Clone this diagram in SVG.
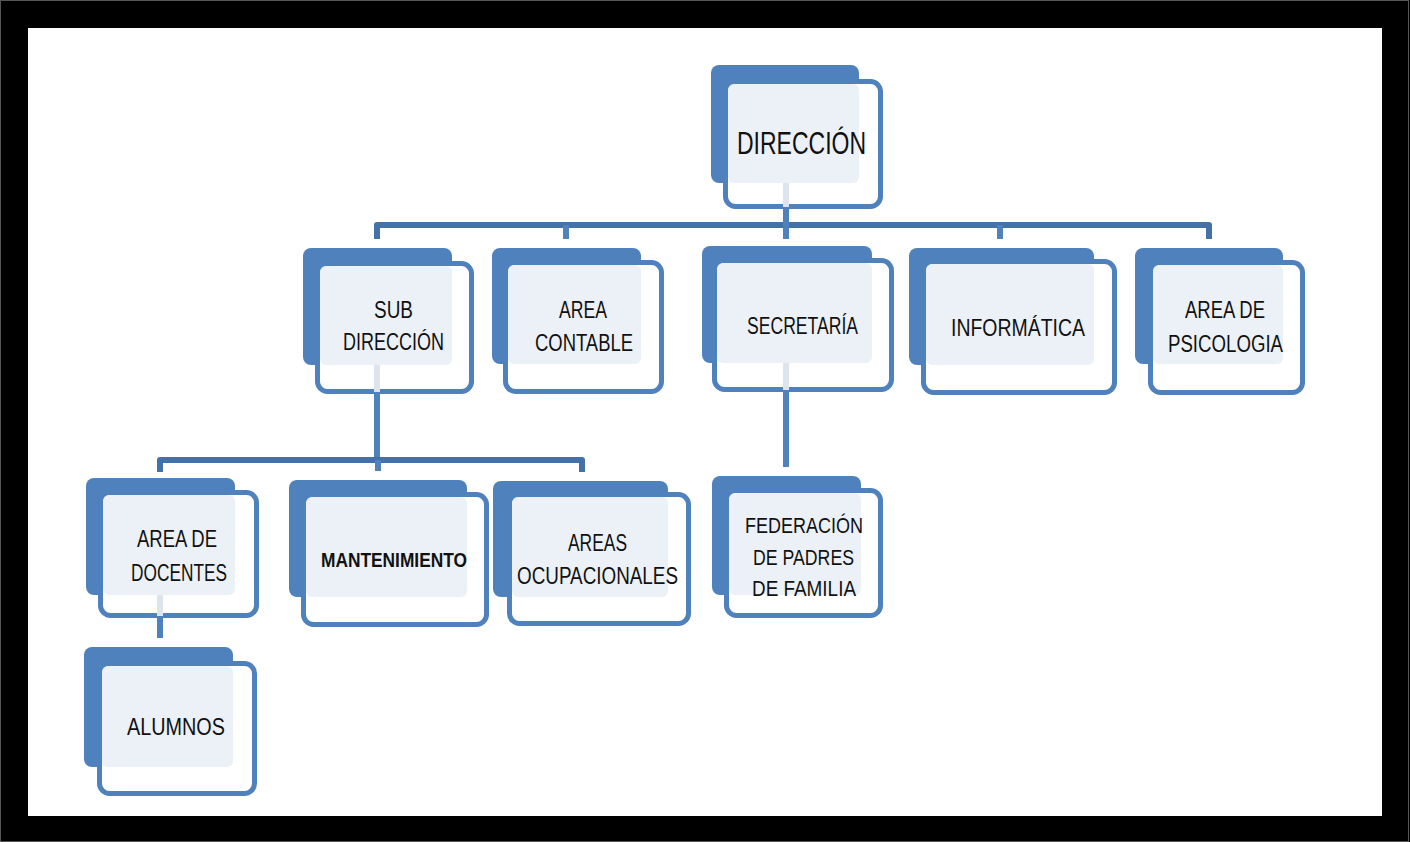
<svg xmlns="http://www.w3.org/2000/svg" width="1410" height="842" viewBox="0 0 1410 842">
<style>
.back{fill:#4F81BD}
.front{fill:#FFFFFF;stroke:#4F81BD;stroke-width:5}
.tint{fill:#ECF1F8}
.ghost{stroke:#DDE4EE;stroke-width:6}
.bus{fill:none;stroke:#4472A8;stroke-width:6;stroke-linejoin:round}
.drop{stroke:#4F81BD;stroke-width:6}
text{font-family:"Liberation Sans",Arial,sans-serif;font-size:23px;fill:#111111;text-anchor:middle}
</style>
<rect x="0" y="0" width="1410" height="842" fill="#000"/>
<rect x="0.5" y="0.5" width="1408" height="841" fill="none" stroke="#555" stroke-width="1"/>
<rect x="28" y="28" width="1354" height="788" fill="#fff"/>

<g id="connectors">
  <path class="bus" d="M377,239 V225 H1209 V239"/>
  <line class="drop" x1="786" y1="207" x2="786" y2="225"/>
  <line class="drop" x1="566" y1="225" x2="566" y2="239"/>
  <line class="drop" x1="786" y1="225" x2="786" y2="239"/>
  <line class="drop" x1="1000" y1="225" x2="1000" y2="239"/>
  <line class="drop" x1="377" y1="392" x2="377" y2="460"/>
  <path class="bus" d="M160,472 V460 H582 V472"/>
  <line class="drop" x1="378" y1="460" x2="378" y2="471"/>
  <line class="drop" x1="786" y1="390" x2="786" y2="467"/>
  <line class="drop" x1="160" y1="616" x2="160" y2="638"/>
</g>

<g id="n-direccion">
  <rect class="back" x="711" y="65" width="148" height="118" rx="8"/>
  <rect class="front" x="725.5" y="81.5" width="155" height="125" rx="10"/>
  <rect class="tint" x="728" y="84" width="131" height="99" rx="6"/>
  <line class="ghost" x1="786" y1="183" x2="786" y2="207"/>
  <text x="801.5" y="154" textLength="129" lengthAdjust="spacingAndGlyphs" style="font-size:32px">DIRECCIÓN</text>
</g>

<g id="n-subdireccion">
  <rect class="back" x="303" y="248" width="149" height="117" rx="8"/>
  <rect class="front" x="317.5" y="263.5" width="154" height="128" rx="10"/>
  <rect class="tint" x="320" y="266" width="132" height="99" rx="6"/>
  <line class="ghost" x1="377" y1="365" x2="377" y2="392"/>
  <text x="393.5" y="318" textLength="39" lengthAdjust="spacingAndGlyphs">SUB</text>
  <text x="393.5" y="350" textLength="101" lengthAdjust="spacingAndGlyphs">DIRECCIÓN</text>
</g>

<g id="n-contable">
  <rect class="back" x="492" y="248" width="149" height="116" rx="8"/>
  <rect class="front" x="505.5" y="262.5" width="156" height="129" rx="10"/>
  <rect class="tint" x="508" y="265" width="133" height="99" rx="6"/>
  <text x="583" y="318" textLength="48" lengthAdjust="spacingAndGlyphs">AREA</text>
  <text x="584" y="351" textLength="98" lengthAdjust="spacingAndGlyphs">CONTABLE</text>
</g>

<g id="n-secretaria">
  <rect class="back" x="702" y="246" width="170" height="117" rx="8"/>
  <rect class="front" x="714.5" y="260.5" width="177" height="129" rx="10"/>
  <rect class="tint" x="717" y="263" width="155" height="100" rx="6"/>
  <line class="ghost" x1="786" y1="363" x2="786" y2="390"/>
  <text x="802.5" y="334" textLength="111" lengthAdjust="spacingAndGlyphs">SECRETARÍA</text>
</g>

<g id="n-informatica">
  <rect class="back" x="909" y="248" width="185" height="117" rx="8"/>
  <rect class="front" x="923.5" y="261.5" width="191" height="131" rx="10"/>
  <rect class="tint" x="926" y="264" width="168" height="101" rx="6"/>
  <text x="1018" y="336" textLength="134" lengthAdjust="spacingAndGlyphs">INFORMÁTICA</text>
</g>

<g id="n-psicologia">
  <rect class="back" x="1135" y="248" width="148" height="116" rx="8"/>
  <rect class="front" x="1150.5" y="262.5" width="152" height="130" rx="10"/>
  <rect class="tint" x="1153" y="265" width="130" height="99" rx="6"/>
  <text x="1225" y="318" textLength="80" lengthAdjust="spacingAndGlyphs">AREA DE</text>
  <text x="1225.5" y="352" textLength="115" lengthAdjust="spacingAndGlyphs">PSICOLOGIA</text>
</g>

<g id="n-docentes">
  <rect class="back" x="86" y="478" width="149" height="117" rx="8"/>
  <rect class="front" x="100.5" y="492.5" width="156" height="123" rx="10"/>
  <rect class="tint" x="103" y="495" width="132" height="100" rx="6"/>
  <line class="ghost" x1="160" y1="595" x2="160" y2="616"/>
  <text x="177" y="547" textLength="80" lengthAdjust="spacingAndGlyphs">AREA DE</text>
  <text x="179" y="581" textLength="96" lengthAdjust="spacingAndGlyphs">DOCENTES</text>
</g>

<g id="n-mantenimiento">
  <rect class="back" x="289" y="480" width="178" height="117" rx="8"/>
  <rect class="front" x="303.5" y="494.5" width="183" height="130" rx="10"/>
  <rect class="tint" x="306" y="497" width="161" height="100" rx="6"/>
  <text x="394" y="567" textLength="146" lengthAdjust="spacingAndGlyphs" style="font-size:21px;font-weight:bold">MANTENIMIENTO</text>
</g>

<g id="n-ocupacionales">
  <rect class="back" x="493" y="481" width="175" height="116" rx="8"/>
  <rect class="front" x="509.5" y="494.5" width="179" height="129" rx="10"/>
  <rect class="tint" x="512" y="497" width="156" height="100" rx="6"/>
  <text x="597.5" y="551" textLength="59" lengthAdjust="spacingAndGlyphs">AREAS</text>
  <text x="597.5" y="584" textLength="161" lengthAdjust="spacingAndGlyphs">OCUPACIONALES</text>
</g>

<g id="n-federacion">
  <rect class="back" x="712" y="476" width="149" height="119" rx="8"/>
  <rect class="front" x="726.5" y="490.5" width="154" height="125" rx="10"/>
  <rect class="tint" x="729" y="493" width="132" height="102" rx="6"/>
  <text x="804" y="533" textLength="118" lengthAdjust="spacingAndGlyphs" style="font-size:22px">FEDERACIÓN</text>
  <text x="803.5" y="565" textLength="101" lengthAdjust="spacingAndGlyphs" style="font-size:22px">DE PADRES</text>
  <text x="804" y="596" textLength="104" lengthAdjust="spacingAndGlyphs" style="font-size:22px">DE FAMILIA</text>
</g>

<g id="n-alumnos">
  <rect class="back" x="84" y="647" width="149" height="120" rx="8"/>
  <rect class="front" x="99.5" y="663.5" width="155" height="130" rx="10"/>
  <rect class="tint" x="102" y="666" width="131" height="101" rx="6"/>
  <text x="176" y="735" textLength="98" lengthAdjust="spacingAndGlyphs">ALUMNOS</text>
</g>
</svg>
